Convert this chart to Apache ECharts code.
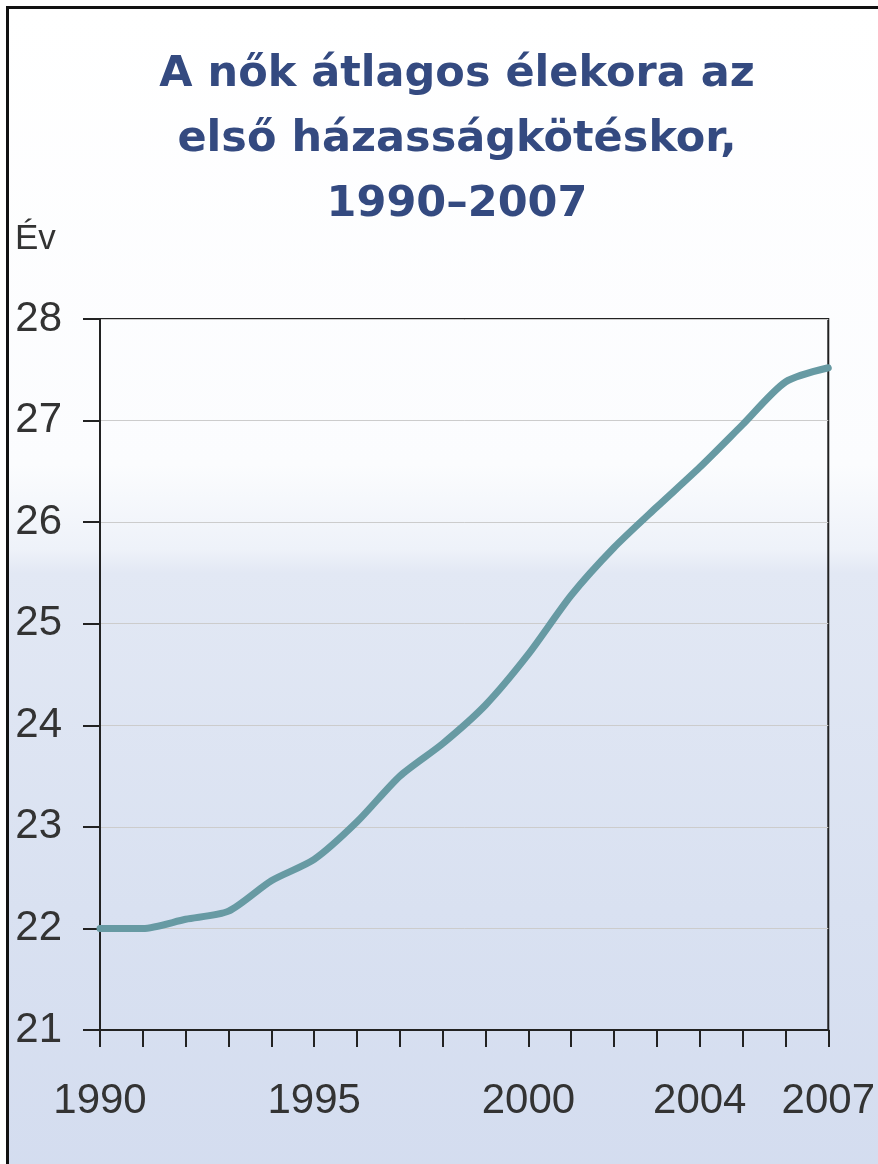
<!DOCTYPE html>
<html>
<head>
<meta charset="utf-8">
<script src="https://cdn.jsdelivr.net/npm/echarts@6/dist/echarts.min.js"></script>
<style>
  body { margin: 0; background: #fff; }
  #frame {
    position: absolute; left: 6px; top: 6px; width: 900px; height: 1200px;
    border-left: 3px solid #111; border-top: 3px solid #111;
    background: linear-gradient(to bottom, #ffffff 0%, #fbfcfe 38%, #eef2f9 45%, #e2e8f4 47%, #d9e1f1 75%, #d3dcef 100%);
  }
  #chart { position: absolute; left: 0; top: 0; width: 878px; height: 1164px; }
</style>
</head>
<body>
<div id="frame"></div>
<div id="chart"></div>
<script>
// évek és a nők átlagos életkora az első házasságkötéskor
const years = ['1990', '1991', '1992', '1993', '1994', '1995', '1996', '1997', '1998',
  '1999', '2000', '2001', '2002', '2003', '2004', '2005', '2006', '2007'];
const ages = [22.0, 22.0, 22.09, 22.17, 22.47, 22.68, 23.05, 23.5, 23.82,
  24.2, 24.7, 25.28, 25.75, 26.15, 26.54, 26.96, 27.38, 27.52];
const yearLabels = ['1990', '1995', '2000', '2004', '2007'];

const chart = echarts.init(document.getElementById('chart'));

const option = {
  backgroundColor: 'transparent',
  title: [
    {
      text: 'A nők átlagos élekora az\nelső házasságkötéskor,\n1990–2007',
      left: 452,
      top: 37,
      textAlign: 'center',
      textStyle: {
        fontFamily: 'DejaVu Sans',
        fontWeight: 'bold',
        fontSize: 43,
        lineHeight: 65,
        color: '#344a80'
      }
    },
    {
      text: 'Év',
      left: 10,
      top: 217,
      textStyle: {
        fontFamily: 'Liberation Sans',
        fontWeight: 'normal',
        fontSize: 35,
        color: '#333'
      }
    }
  ],
  grid: {
    left: 100,
    right: 49,
    top: 319,
    bottom: 134,
    show: true,
    borderColor: '#222',
    borderWidth: 2
  },
  xAxis: {
    type: 'category',
    data: years,
    boundaryGap: false,
    axisLine: { lineStyle: { color: '#222', width: 2 } },
    axisTick: { interval: 0, length: 17, lineStyle: { color: '#222', width: 2 } },
    axisLabel: {
      interval: (i, v) => yearLabels.includes(v),
      fontFamily: 'Liberation Sans',
      fontSize: 42,
      color: '#333',
      margin: 50
    },
    splitLine: { show: false }
  },
  yAxis: {
    type: 'value',
    min: 21,
    max: 28,
    interval: 1,
    axisLine: { show: true, lineStyle: { color: '#222', width: 2 } },
    axisTick: { show: true, length: 17, lineStyle: { color: '#222', width: 2 } },
    axisLabel: {
      fontFamily: 'Liberation Sans',
      fontSize: 42,
      color: '#333',
      margin: 38
    },
    splitLine: { lineStyle: { color: '#cccccc', width: 1 } }
  },
  series: [{
    type: 'line',
    data: ages,
    smooth: 0.25,
    symbol: 'none',
    lineStyle: { color: '#679aa3', width: 7, cap: 'round' }
  }]
};

chart.setOption(option);
</script>
</body>
</html>
